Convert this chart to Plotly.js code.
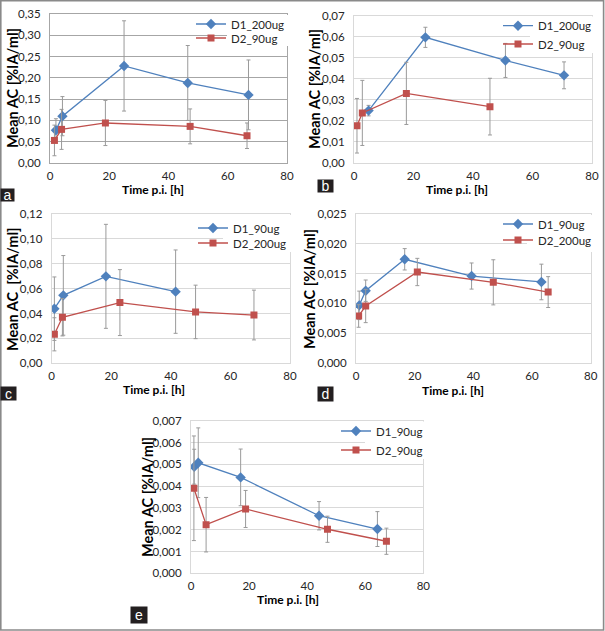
<!DOCTYPE html>
<html>
<head>
<meta charset="utf-8">
<script src="https://cdn.plot.ly/plotly-3.0.1.min.js"></script>
<style>html,body{margin:0;padding:0;background:#fff;}#chart{width:605px;height:631px;}</style>
</head>
<body>
<div id="chart"></div>
<script>
// ---------- DATA ----------
const xTicks = [0, 20, 40, 60, 80];

// Panel a
const aNames = ['D1_200ug', 'D2_90ug'];
const aD1x = [2.0, 4.2, 25.0, 46.5, 67.0];
const aD1y = [0.077, 0.110, 0.228, 0.188, 0.160];
const aD1e = [0.027, 0.046, 0.106, 0.088, 0.082];
const aD2x = [1.5, 3.9, 18.7, 47.3, 66.5];
const aD2y = [0.053, 0.079, 0.094, 0.086, 0.064];
const aD2e = [0.036, 0.047, 0.053, 0.041, 0.030];

// Panel b
const bNames = ['D1_200ug', 'D2_90ug'];
const bD1x = [4.9, 24.0, 50.9, 70.6];
const bD1y = [0.0248, 0.0597, 0.0487, 0.0416];
const bD1e = [0.0025, 0.0048, 0.0081, 0.0064];
const bD2x = [1.0, 2.8, 17.6, 45.7];
const bD2y = [0.0176, 0.0237, 0.0330, 0.0267];
const bD2e = [0.0130, 0.0155, 0.0148, 0.0135];

// Panel c
const cNames = ['D1_90ug', 'D2_200ug'];
const cD1x = [0.9, 3.9, 18.2, 41.6];
const cD1y = [0.0439, 0.0546, 0.0699, 0.0576];
const cD1e = [0.0255, 0.0320, 0.0418, 0.0335];
const cD2x = [0.9, 3.6, 22.9, 48.3, 67.9];
const cD2y = [0.0233, 0.0370, 0.0488, 0.0413, 0.0388];
const cD2e = [0.0133, 0.0150, 0.0265, 0.0215, 0.0200];

// Panel d
const dNames = ['D1_90ug', 'D2_200ug'];
const dD1x = [1.1, 3.3, 16.6, 39.4, 63.2];
const dD1y = [0.00966, 0.01213, 0.01742, 0.01460, 0.01360];
const dD1e = [0.0024, 0.0018, 0.0018, 0.0022, 0.0030];
const dD2x = [0.9, 3.3, 20.9, 46.8, 65.5];
const dD2y = [0.00787, 0.00955, 0.01528, 0.01354, 0.01190];
const dD2e = [0.0019, 0.0028, 0.0023, 0.0038, 0.0026];

// Panel e
const eNames = ['D1_90ug', 'D2_90ug'];
const eD1x = [1.1, 2.5, 17.1, 44.1, 64.2];
const eD1y = [0.00489, 0.00507, 0.00440, 0.00264, 0.00203];
const eD1e = [0.0008, 0.0016, 0.0013, 0.00065, 0.0008];
const eD2x = [1.0, 5.2, 18.8, 47.0, 67.3];
const eD2y = [0.00390, 0.00223, 0.00295, 0.00202, 0.00147];
const eD2e = [0.0024, 0.00125, 0.00085, 0.0006, 0.0006];

const panelLabels = ['a', 'b', 'c', 'd', 'e'];
const xTitle = 'Time p.i. [h]';
const yTitles = ['Mean AC [%IA/ml]', 'Mean AC [%IA/ml]', 'Mean AC  [%IA/ml]', 'Mean AC [%IA/ml]', 'Mean AC [%IA/ml]'];

// ---------- LAYOUT HELPERS ----------
const W = 605, H = 631;
const px = v => v / W;
const py = v => 1 - v / H;
const BLUE = '#4F81BD', RED = '#C0504D', ERR = '#9a9a9a';
const FONT = 'Lato, "Open Sans", sans-serif';

// box: plot area [left, right, top, bottom] px; leg: [text left x, row1 y, row2 y]; legBox: white legend area [x0, y0, y1] px
const panels = [
  {names: aNames, d1: [aD1x, aD1y, aD1e], d2: [aD2x, aD2y, aD2e], box: [50, 287, 14, 163], yr: [0, 0.35], dt: 0.05, fmt: '.2f', grid: '#a6a6a6',
   leg: [233, 24, 38], legBox: [227, 15, 46], lab: [0, 188, 13, 12], xt: [153, 189.5], yt: [12, 88]},
  {names: bNames, d1: [bD1x, bD1y, bD1e], d2: [bD2x, bD2y, bD2e], box: [354, 592, 15.7, 162.7], yr: [0, 0.07], dt: 0.01, fmt: '.2f', grid: '#d9d9d9',
   leg: [540, 25.7, 44], legBox: [530, 16.5, 53], lab: [317, 179, 15, 12], xt: [457, 189.5], yt: [315, 89]},
  {names: cNames, d1: [cD1x, cD1y, cD1e], d2: [cD2x, cD2y, cD2e], box: [51.7, 290, 214, 363.3], yr: [0, 0.12], dt: 0.02, fmt: '.2f', grid: '#d9d9d9',
   leg: [235, 228, 243], legBox: [223, 215, 252], lab: [0, 386, 15, 13], xt: [154, 389.5], yt: [12, 289]},
  {names: dNames, d1: [dD1x, dD1y, dD1e], d2: [dD2x, dD2y, dD2e], box: [356, 590.7, 214.3, 362.7], yr: [0, 0.025], dt: 0.005, fmt: '.3f', grid: '#d9d9d9',
   leg: [540, 224, 240], legBox: [527, 215, 252], lab: [317, 386, 15, 14], xt: [453, 390.5], yt: [309, 289]},
  {names: eNames, d1: [eD1x, eD1y, eD1e], d2: [eD2x, eD2y, eD2e], box: [191, 423.3, 420.7, 573.3], yr: [0, 0.007], dt: 0.001, fmt: '.3f', grid: '#d9d9d9',
   leg: [378, 431, 450], legBox: [365, 421.5, 459], lab: [130, 606, 16, 16], xt: [288, 599], yt: [147, 497]}
];

const data = [];
const layout = {
  width: W, height: H,
  margin: {l: 0, r: 0, t: 0, b: 0},
  paper_bgcolor: '#ffffff', plot_bgcolor: '#ffffff',
  separators: ', ',
  showlegend: true,
  font: {family: FONT, size: 11, color: '#262626'},
  annotations: [],
  shapes: [{type: 'rect', xref: 'paper', yref: 'paper', x0: px(0.8), x1: px(603.6), y0: py(630), y1: py(0.8),
            line: {color: '#8a8a8a', width: 1.6}, fillcolor: 'rgba(0,0,0,0)', layer: 'above'}]
};

let legCount = 0;
panels.forEach((p, i) => {
  const n = i + 1;
  const xa = n === 1 ? 'x' : 'x' + n;
  const ya = n === 1 ? 'y' : 'y' + n;
  const addLegend = (rowY) => {
    legCount += 1;
    const name = legCount === 1 ? 'legend' : 'legend' + legCount;
    layout[name] = {
      x: px(p.leg[0] - 42), y: py(rowY), xanchor: 'left', yanchor: 'middle',
      bgcolor: 'rgba(255,255,255,0)', borderwidth: 0, font: {family: FONT, size: 11.5, color: '#262626'}
    };
    return name;
  };
  const mk = (arr, name, color, symbol, size, leg) => ({
    type: 'scatter', mode: 'lines+markers', x: arr[0], y: arr[1], name: name,
    xaxis: xa, yaxis: ya, legend: leg,
    line: {color: color, width: 1.3},
    marker: {color: color, symbol: symbol, size: size},
    error_y: {type: 'data', array: arr[2], visible: true, color: ERR, thickness: 1, width: 2}
  });
  data.push(mk(p.d1, p.names[0], BLUE, 'diamond', 8, addLegend(p.leg[1])));
  data.push(mk(p.d2, p.names[1], RED, 'square', 7, addLegend(p.leg[2])));

  const [x0, x1, yT, yB] = p.box;
  layout['xaxis' + (n === 1 ? '' : n)] = {
    domain: [px(x0), px(x1)], anchor: ya, range: [0, 80], tickvals: xTicks, ticktext: xTicks.map(String),
    showgrid: false, zeroline: false, showline: true, mirror: true, linecolor: p.grid, linewidth: 1,
    ticks: '', ticklabelstandoff: 2, tickfont: {family: FONT, size: 11.5, color: '#262626'}, fixedrange: true
  };
  layout['yaxis' + (n === 1 ? '' : n)] = {
    domain: [py(yB), py(yT)], anchor: xa, range: p.yr, dtick: p.dt, tick0: 0, tickformat: p.fmt,
    showgrid: true, gridcolor: p.grid, gridwidth: 1, zeroline: false, showline: true, mirror: true,
    linecolor: p.grid, linewidth: 1, ticks: '', ticklabelstandoff: 6,
    tickfont: {family: FONT, size: 11.5, color: '#262626'}, fixedrange: true
  };
  // white legend area hiding gridlines and the plot border (like the legend box of the original)
  const [bx0, by0, by1] = p.legBox;
  layout.shapes.push({
    type: 'rect', xref: 'paper', yref: 'paper', layer: 'above',
    x0: px(bx0), x1: px(x1 + 1.5), y0: py(by1), y1: py(by0),
    line: {width: 0}, fillcolor: '#ffffff'
  });
  // axis titles
  layout.annotations.push({
    xref: 'paper', yref: 'paper', x: px(p.xt[0]), y: py(p.xt[1]), xanchor: 'center', yanchor: 'middle',
    text: '<b>' + xTitle + '</b>', showarrow: false, font: {family: FONT, size: 12, color: '#000'}
  });
  layout.annotations.push({
    xref: 'paper', yref: 'paper', x: px(p.yt[0]), y: py(p.yt[1]), xanchor: 'center', yanchor: 'middle',
    text: '<b>' + yTitles[i] + '</b>', textangle: -90, showarrow: false,
    font: {family: FONT, size: 14.5, color: '#000'}
  });
  // panel label
  const [lx, ly, lw, lh] = p.lab;
  layout.annotations.push({
    xref: 'paper', yref: 'paper', x: px(lx), y: py(ly), xanchor: 'left', yanchor: 'top',
    width: lw, height: lh, borderpad: 0, bgcolor: '#231f20', align: 'center', valign: 'middle',
    text: panelLabels[i], showarrow: false, font: {family: 'Liberation Sans, Arial, sans-serif', size: 14, color: '#ffffff'}
  });
});

Plotly.newPlot('chart', data, layout, {displayModeBar: false, staticPlot: true});
</script>
</body>
</html>
